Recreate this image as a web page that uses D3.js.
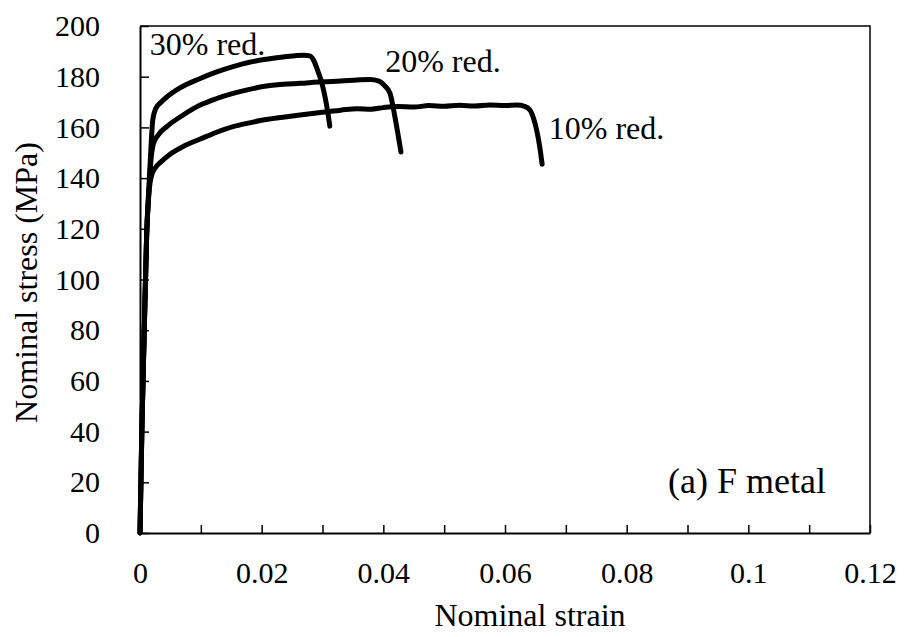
<!DOCTYPE html>
<html>
<head>
  <meta charset="utf-8">
  <script src="https://d3js.org/d3.v7.min.js"></script>
  <title>Nominal stress-strain, F metal</title>
  <style>
    body { margin: 0; background: #fff; }
    svg text { font-family: "Liberation Serif", "Times New Roman", serif; fill: #000; }
    .axis path, .axis line { stroke: #000; }
  </style>
</head>
<body>
  <div class='chart'></div>
  <script type="text/javascript">
    // curves: strain (-) vs stress (MPa)
    var strain10 = [0, 0.0003, 0.0007, 0.0011, 0.0015, 0.0019, 0.0025, 0.0035, 0.005, 0.0071, 0.010,
                    0.0125, 0.0153, 0.018, 0.020, 0.0235, 0.0263, 0.030, 0.033, 0.0357, 0.038, 0.040,
                    0.0425, 0.045, 0.0475, 0.050, 0.0525, 0.055, 0.0575, 0.060, 0.062, 0.0632, 0.0641,
                    0.0647, 0.0652, 0.0657, 0.0661];
    var stress10 = [0, 40, 80, 118, 135, 141, 144, 146.5, 149.5, 152.5, 155.5,
                    158, 160.3, 161.8, 162.8, 164, 164.9, 166, 166.8, 167.4, 167.2, 167.8,
                    168.2, 168, 168.6, 168.3, 168.7, 168.4, 168.8, 168.6, 168.8, 168.3, 166.9,
                    163.5, 159, 152.5, 145.5];

    var strain20 = [0, 0.0003, 0.0007, 0.0011, 0.0015, 0.0018, 0.0022, 0.003, 0.0045, 0.0071, 0.0099,
                    0.0125, 0.0153, 0.018, 0.0205, 0.0235, 0.0263, 0.030, 0.033, 0.0357, 0.0378,
                    0.0393, 0.0402, 0.0411, 0.0419, 0.0425, 0.0429];
    var stress20 = [0, 40, 80, 118, 136, 147, 153.5, 157, 160.5, 164.9, 168.8,
                    171.3, 173.4, 175, 176.2, 177, 177.4, 178, 178.3, 178.7, 178.9,
                    178.3, 176.5, 173.4, 164.2, 156, 150.3];

    var strain30 = [0, 0.0003, 0.0007, 0.0011, 0.0015, 0.0018, 0.0021, 0.0026, 0.0035, 0.0044, 0.0065,
                    0.0099, 0.0125, 0.0153, 0.018, 0.0208, 0.0235, 0.0255, 0.027, 0.0279, 0.0286,
                    0.0292, 0.0299, 0.0305, 0.0309, 0.0312];
    var stress30 = [0, 40, 80, 118, 138, 152, 163, 167.5, 170, 172, 175.5,
                    179.3, 181.8, 184, 185.7, 186.9, 187.8, 188.3, 188.5, 188.2, 186.2,
                    182.5, 177.5, 171, 165.5, 160.5];

    var curveNames = ["10% red.", "20% red.", "30% red."];
    var xTicks = [0, 0.01, 0.02, 0.03, 0.04, 0.05, 0.06, 0.07, 0.08, 0.09, 0.1, 0.11, 0.12];
    var xTickLabels = ["0", "", "0.02", "", "0.04", "", "0.06", "", "0.08", "", "0.1", "", "0.12"];
    var yTicks = [0, 20, 40, 60, 80, 100, 120, 140, 160, 180, 200];
    var yTickLabels = ["0", "20", "40", "60", "80", "100", "120", "140", "160", "180", "200"];

    var serif = '"Liberation Serif", "Times New Roman", serif';
    var width = 906, height = 637;
    var margin = {left: 140, right: 36, top: 26, bottom: 104};
    var w = width - margin.left - margin.right;
    var h = height - margin.top - margin.bottom;

    var x = d3.scaleLinear().domain([0, 0.12]).range([0, w]);
    var y = d3.scaleLinear().domain([0, 200]).range([h, 0]);

    var svg = d3.select('.chart')
      .append('svg')
      .attr('width', width)
      .attr('height', height);

    var g = svg.append('g')
      .attr('transform', 'translate(' + margin.left + ',' + margin.top + ')');

    // top and right frame
    g.append('path')
      .attr('d', 'M0,0H' + w + 'V' + h)
      .attr('fill', 'none')
      .attr('stroke', '#000')
      .attr('stroke-width', 1.5);

    var xAxis = d3.axisBottom(x)
      .tickValues(xTicks)
      .tickFormat(function(d, i) { return xTickLabels[i]; })
      .tickSizeInner(-8)
      .tickSizeOuter(0)
      .tickPadding(29);

    var yAxis = d3.axisLeft(y)
      .tickValues(yTicks)
      .tickFormat(function(d, i) { return yTickLabels[i]; })
      .tickSizeInner(-9)
      .tickSizeOuter(0)
      .tickPadding(40);

    var gx = g.append('g')
      .attr('class', 'axis')
      .attr('transform', 'translate(0,' + h + ')')
      .call(xAxis);
    var gy = g.append('g')
      .attr('class', 'axis')
      .call(yAxis);

    [gx, gy].forEach(function(a) {
      a.attr('font-family', serif).attr('font-size', 30);
      a.select('.domain').attr('stroke-width', 2);
      a.selectAll('.tick line').attr('stroke-width', 1.5);
      a.selectAll('text')
        .attr('font-family', serif)
        .style('font-family', serif)
        .style('font-size', '30px');
    });

    var line = d3.line()
      .x(function(d) { return x(d[0]); })
      .y(function(d) { return y(d[1]); })
      .curve(d3.curveMonotoneX);

    var series = [
      d3.zip(strain10, stress10),
      d3.zip(strain20, stress20),
      d3.zip(strain30, stress30)
    ];

    g.selectAll('path.curve')
      .data(series)
      .enter()
      .append('path')
      .attr('class', 'curve')
      .attr('d', line)
      .attr('fill', 'none')
      .attr('stroke', '#000')
      .attr('stroke-width', 5)
      .attr('stroke-linejoin', 'round')
      .attr('stroke-linecap', 'round');

    // curve labels, anchored at their baseline (strain, stress)
    var labelPos = [[0.0672, 155.4], [0.0403, 181.9], [0.0016, 188.6]];
    g.selectAll('text.lab')
      .data(curveNames)
      .enter()
      .append('text')
      .attr('class', 'lab')
      .attr('x', function(d, i) { return x(labelPos[i][0]); })
      .attr('y', function(d, i) { return y(labelPos[i][1]); })
      .style('font-size', '32px')
      .text(function(d) { return d; });

    g.append('text')
      .attr('x', 528)
      .attr('y', 467)
      .style('font-size', '36px')
      .text('(a) F metal');

    // axis titles
    svg.append('text')
      .attr('x', 530)
      .attr('y', 626)
      .attr('text-anchor', 'middle')
      .style('font-size', '32px')
      .text('Nominal strain');

    svg.append('text')
      .attr('transform', 'translate(37,' + (margin.top + h / 2 + 3) + ') rotate(-90)')
      .attr('text-anchor', 'middle')
      .style('font-size', '32px')
      .text('Nominal stress (MPa)');
  </script>
</body>
</html>
